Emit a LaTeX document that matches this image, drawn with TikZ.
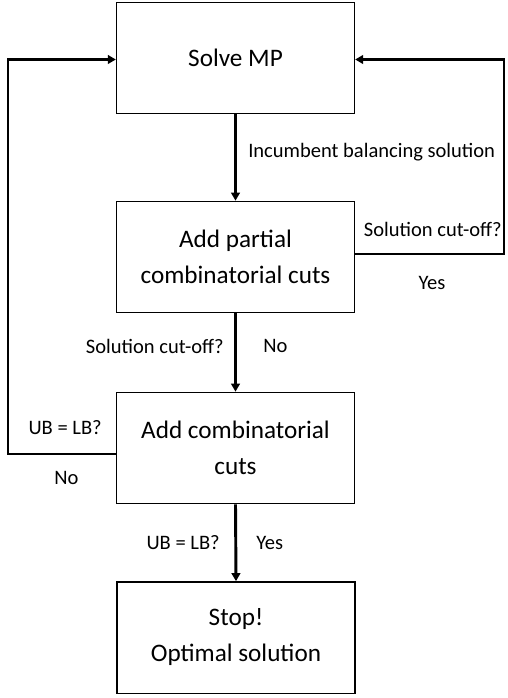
\documentclass[tikz,border=0pt]{standalone}
\usepackage{fontspec}
\setmainfont{Carlito}
\usetikzlibrary{arrows.meta}
\begin{document}
\begin{tikzpicture}[x=0.75pt,y=-0.75pt,
  box/.style={draw=black,line width=1pt,minimum width=178.5pt,minimum height=83.5pt,
    align=center,font=\fontsize{18.9}{27}\selectfont,inner sep=0pt},
  conn/.style={line width=2.2pt,-{Triangle[length=6pt,width=6.5pt]}},
  lineonly/.style={line width=2.2pt},
  lbl/.style={font=\fontsize{15.4}{18}\selectfont,inner sep=0pt}]
\useasboundingbox (0,0) rectangle (507,698);
\node[box] (mp) at (235.5,58) {Solve MP};
\node[box] (pc) at (235.5,257) {Add partial\\combinatorial cuts};
\node[box] (cc) at (235.5,448) {Add combinatorial\\cuts};
\node[box] (st) at (236,637.5) {Stop!\\Optimal solution};
\coordinate (r1) at (504,254);
\coordinate (r2) at (504,59.5);
\coordinate (l1) at (8,454);
\coordinate (l2) at (8,59.5);
\draw[conn] (mp.south) -- (pc.north);
\draw[conn] (pc.south) -- (cc.north);
\draw[conn] (cc.south) -- (st.north);
\draw[conn] (pc.east |- r1) -- (r1) -- (r2) -- (mp.east |- r2);
\draw[conn] (cc.west |- l1) -- (l1) -- (l2) -- (mp.west |- l2);
\node[lbl,anchor=west] (t1) at (248,152) {Incumbent balancing solution};
\node[lbl,anchor=east] (t2) at (502,229) {Solution cut-off?};
\node[lbl] (t3) at (432,283) {Yes};
\node[lbl,anchor=east] (t4) at (224,346) {Solution cut-off?};
\node[lbl,anchor=west] (t5) at (263,346) {No};
\node[lbl,anchor=east] (t6) at (102,428) {UB = LB?};
\node[lbl] (t7) at (66.5,478) {No};
\node[lbl,anchor=east] (t8) at (220,543) {UB = LB?};
\node[lbl,anchor=west] (t9) at (256,543) {Yes};
\end{tikzpicture}
\end{document}
